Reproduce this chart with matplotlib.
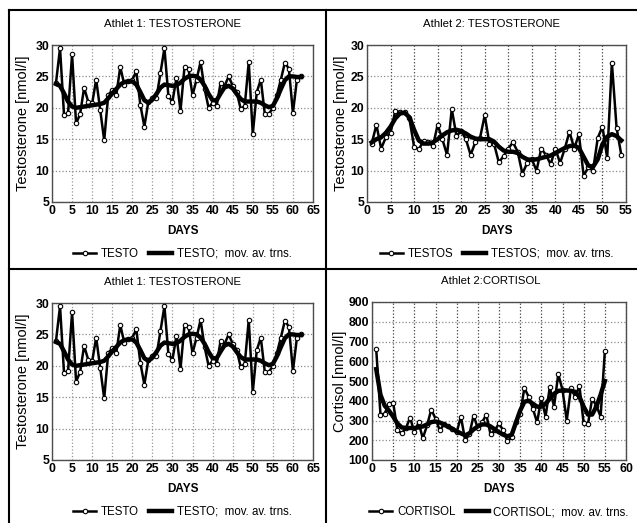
import matplotlib
matplotlib.use("Agg")
import matplotlib.pyplot as plt
from matplotlib.lines import Line2D

plt.rcParams['font.family'] = ['Liberation Sans', 'DejaVu Sans']

# Athlet 1: testosterone, days 1..62
a1_days = list(range(1, 63))
a1_testo = [24, 29.5, 18.8, 19.2, 28.5, 17.5, 19, 23.2, 21, 20.7,
            24.5, 19.7, 14.8, 22, 22.8, 22, 26.5, 23.7, 24.2, 24.5,
            25.8, 20.5, 17, 21, 21.5, 21.5, 25.5, 29.5, 21.8, 21,
            24.8, 19.5, 26.5, 26.2, 22, 24.5, 27.3, 23, 20, 20.8,
            20.3, 24, 23.5, 25, 23.5, 22.5, 19.8, 20.3, 27.3, 15.8,
            22.5, 24.5, 19, 19, 20, 22, 24.5, 27.2, 26.2, 19.2,
            24.5, 25]
a1_mov = [23.8, 23.5, 22.3, 21, 20.2, 20, 20.1, 20.2, 20.3, 20.4,
          20.5, 20.6, 20.8, 21.5, 22.3, 23, 23.7, 24.1, 24.2, 24.2,
          23.7, 22.5, 21.2, 20.8, 21.3, 22.2, 23.2, 23.7, 23.6, 23.5,
          23.6, 24, 24.6, 25, 25.1, 25, 24.5, 23.5, 22.2, 21.2,
          21.2, 22.3, 23.3, 23.5, 23.1, 22.2, 21.4, 21, 21, 21,
          21, 20.8, 20.4, 20.1, 20.3, 21.5, 23, 24.4, 25, 25,
          24.9, 24.9]

# Athlet 2: testosterone, days 1..54
a2_days = list(range(1, 55))
a2_testo = [14.3, 17.3, 13.5, 15.3, 16, 19.5, 19.3, 19.3, 18.3, 13.8,
            13.4, 14.7, 14.5, 13.9, 17.3, 15, 12.5, 19.8, 15.5, 16.3,
            15, 12.5, 14.5, 15.2, 18.8, 14.3, 14.2, 11.3, 12.3, 13.5,
            14.5, 13, 9.5, 11.2, 11.8, 10, 13.5, 12.5, 11, 13.5,
            11.2, 13.5, 16.2, 13.5, 15.8, 9.2, 10.5, 10, 15.2, 17,
            12, 27.2, 16.8, 12.5]
a2_mov = [14.5, 15, 15.3, 16, 17, 18.3, 19.1, 19.2, 18.5, 16.5,
          14.8, 14.3, 14.3, 14.5, 15, 15.6, 16.1, 16.4, 16.5, 16.3,
          15.9, 15.4, 15.1, 15, 15, 15, 14.6, 13.8, 13.2, 13,
          13, 12.8, 12.2, 11.8, 11.7, 11.8, 12, 12.2, 12.4, 12.8,
          13.2, 13.6, 13.9, 14, 13.6, 12.2, 10.8, 10.6, 11.8, 14.2,
          15.4, 15.8, 15.5, 14.8]

# Athlet 2: cortisol, days 1..55
a2c_days = list(range(1, 56))
a2_cort = [660, 330, 335, 385, 390, 250, 235, 260, 315, 240,
           290, 210, 275, 355, 310, 250, 280, 270, 255, 240,
           320, 200, 230, 325, 260, 290, 330, 230, 250, 285,
           250, 195, 215, 290, 335, 465, 420, 360, 290, 415,
           320, 470, 370, 535, 455, 300, 465, 420, 475, 285,
           280, 410, 375, 320, 650]
a2_cort_mov = [560, 430, 375, 350, 320, 285, 265, 262, 262, 262,
               265, 270, 280, 292, 295, 290, 280, 268, 258, 245,
               235, 225, 235, 255, 270, 280, 280, 270, 255, 240,
               228, 220, 228, 290, 350, 395, 400, 385, 370, 370,
               385, 410, 435, 450, 452, 452, 450, 445, 420, 370,
               330, 330, 370, 430, 500]

W, H = 637, 523
fig = plt.figure(figsize=(W / 100, H / 100), dpi=100)


def rect(l, t, r, b):
    return [l / W, 1 - b / H, (r - l) / W, (b - t) / H]


def panel(box, title, tx, days, raw, mov, raw_name, ylabel, xmax, ylim, ystep,
          ylab_x, dark_grid):
    ax = fig.add_axes(rect(*box))
    ax.plot(days, raw, color='black', lw=1.8, marker='o', ms=3.2,
            mfc='white', mec='black', mew=0.8, label=raw_name, zorder=3)
    ax.plot(days, mov, color='black', lw=3.2, label=raw_name + ';  mov. av. trns.',
            zorder=4)
    ax.set_xlim(0, xmax)
    ax.set_ylim(*ylim)
    ax.set_xticks(range(0, xmax + 1, 5))
    ax.set_yticks(range(ylim[0], ylim[1] + 1, ystep))
    ax.tick_params(length=0, pad=2, labelsize=8.8)
    for lab in ax.get_xticklabels() + ax.get_yticklabels():
        lab.set_fontweight('bold')
    vcol = '0.25' if dark_grid else '0.6'
    ax.grid(axis='x', ls=':', lw=0.9, color=vcol)
    ax.grid(axis='y', ls=':', lw=0.9, color='0.55')
    for s in ax.spines.values():
        s.set_linewidth(1.0)
        s.set_color('0.3')
    ax.set_ylabel(ylabel, fontsize=10.5)
    ax.yaxis.set_label_coords(ylab_x, 0.5)
    ax.set_xlabel('DAYS', fontsize=8.5, fontweight='bold', labelpad=6)
    ax.legend(loc='center', bbox_to_anchor=(0.5, -0.33), ncol=2, frameon=False,
              fontsize=8.3, handlelength=2.0, columnspacing=0.9, handletextpad=0.4,
              borderaxespad=0)
    fig.text(tx / W, 1 - box[1] / H + 21 / H, title, ha='center', va='center',
             fontsize=8.2)
    return ax


panel((52, 45, 313, 202), 'Athlet 1: TESTOSTERONE', 173, a1_days, a1_testo, a1_mov,
      'TESTO', 'Testosterone [nmol/l]', 65, (5, 30), 5, -0.084, False)
panel((367, 45, 626, 202), 'Athlet 2: TESTOSTERONE', 491, a2_days, a2_testo, a2_mov,
      'TESTOS', 'Testosterone [nmol/l]', 55, (5, 30), 5, -0.073, True)
panel((52, 303, 313, 460), 'Athlet 1: TESTOSTERONE', 173, a1_days, a1_testo, a1_mov,
      'TESTO', 'Testosterone [nmol/l]', 65, (5, 30), 5, -0.084, False)
panel((372, 302, 626, 460), 'Athlet 2:CORTISOL', 491, a2c_days, a2_cort, a2_cort_mov,
      'CORTISOL', 'Cortisol [nmol/l]', 60, (100, 900), 100, -0.098, True)

# panel frame lines
def fline(x0, y0, x1, y1, lw=1.5):
    fig.add_artist(Line2D([x0 / W, x1 / W], [1 - y0 / H, 1 - y1 / H],
                          color='black', lw=lw))

fline(9, 10, 636, 10)
fline(9, 10, 9, 523)
fline(326, 10, 326, 523)
fline(9, 269, 636, 269)

fig.savefig('out.png', dpi=100)
